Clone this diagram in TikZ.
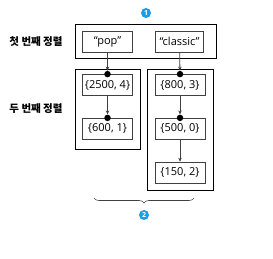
\documentclass[tikz,border=0pt]{standalone}
\usepackage{fontspec}
\setmainfont{Open Sans}
\newfontfamily\kr{Noto Sans CJK KR}
\usetikzlibrary{arrows.meta,positioning,fit,decorations.pathreplacing}
\definecolor{stepblue}{HTML}{1A9FE3}
\definecolor{edge}{HTML}{404040}
\tikzset{
  keybox/.style={draw=edge,thick,fill=white,minimum width=50pt,minimum height=21pt,
    inner sep=1pt,font=\fontsize{11}{13}\selectfont},
  frame/.style={draw=black,thick,inner sep=0pt},
  arrow/.style={-{Stealth[length=4pt,width=3.5pt]},draw=edge,thick},
  dot/.style={circle,fill=black,inner sep=0pt,minimum size=6.5pt},
  badge/.style={circle,fill=stepblue,text=white,inner sep=0pt,minimum size=10pt,
    font=\bfseries\fontsize{7}{7}\selectfont},
  sortlabel/.style={font=\kr\bfseries\fontsize{10.5}{12}\selectfont}
}
\begin{document}
\begin{tikzpicture}[x=1pt,y=-1pt]
  \useasboundingbox (0,0) rectangle (273,259);

  % first sort keys
  \node[keybox] (pop) at (107.5,41.5) {“pop”};
  \node[keybox,minimum width=48pt] (classic) at (179.5,41.5) {“classic”};
  \node[frame,fit={(75,24) (216,58)}] (first) {};
  \node[badge] (one) at (146,13) {1};

  % second sort keys
  \node[keybox] (k2500) at (107.5,85) {\{2500, 4\}};
  \node[keybox,below=22pt of k2500] (k600) {\{600, 1\}};
  \node[keybox] (k800) at (180,85) {\{800, 3\}};
  \node[keybox,below=22pt of k800] (k500) {\{500, 0\}};
  \node[keybox,below=22pt of k500] (k150) {\{150, 2\}};
  \node[frame,fit={(75,69) (140,149)}] (leftgroup) {};
  \node[frame,fit={(147,69) (213,190)}] (rightgroup) {};

  \node[sortlabel] (firstlabel) at (36,42) {첫 번째 정렬};
  \node[sortlabel] (secondlabel) at (36,109) {두 번째 정렬};

  \foreach \k in {k2500,k600,k800,k500}
    \node[dot] (dot-\k) at (\k.north) {};

  \draw[arrow] (pop) -- (dot-k2500);
  \draw[arrow] (k2500) -- (dot-k600);
  \draw[arrow] (classic) -- (dot-k800);
  \draw[arrow] (k800) -- (dot-k500);
  \draw[arrow] (k500) -- (k150);

  % brace and second badge
  \coordinate (bl) at (94,198);
  \coordinate (br) at (194,198);
  \draw[draw=edge,semithick,decorate,decoration={brace,mirror,amplitude=5pt}] (bl) -- (br);
  \node[badge] (two) at (144,215) {2};
\end{tikzpicture}
\end{document}
